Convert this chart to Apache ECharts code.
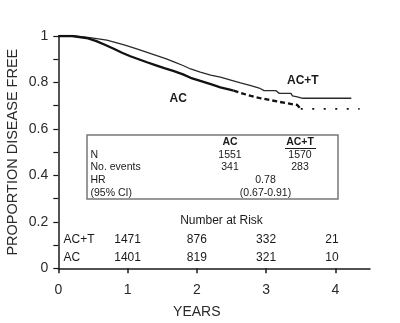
<!DOCTYPE html>
<html>
<head>
<meta charset="utf-8">
<script src="https://cdn.jsdelivr.net/npm/echarts@6/dist/echarts.min.js"></script>
<style>html,body{margin:0;padding:0;background:#fff}#c{width:400px;height:323px}</style>
</head>
<body>
<div id="c"></div>
<script>
// ---- data ----
const actYears = [0,0.24,0.4,0.53,0.7,0.82,0.95,1.11,1.25,1.40,1.55,1.67,1.80,1.91,2.05,2.2,2.34,2.49,2.63,2.78,2.90,2.97,3.14,3.19,3.36,3.38,3.45,3.53,4.23];
const actValues = [1.0,1.0,0.995,0.99,0.982,0.973,0.962,0.947,0.933,0.918,0.903,0.889,0.873,0.858,0.845,0.832,0.823,0.81,0.798,0.786,0.776,0.765,0.765,0.753,0.753,0.742,0.738,0.732,0.732];
const acYears = [0,0.2,0.43,0.55,0.68,0.8,0.92,1.04,1.16,1.28,1.40,1.53,1.67,1.8,1.91,2.05,2.2,2.34,2.49,2.53,2.63,2.78,2.92,3.06,3.2,3.31,3.45,3.5,4.35];
const acValues = [1.0,1.0,0.99,0.978,0.961,0.945,0.928,0.913,0.90,0.887,0.875,0.862,0.849,0.835,0.82,0.807,0.793,0.779,0.768,0.765,0.755,0.742,0.732,0.724,0.716,0.71,0.703,0.686,0.686];
const xTicks = [0,1,2,3,4];
const riskTimes = [1,2,3,3.95];
const riskACT = [1471,876,332,21];
const riskAC = [1401,819,321,10];
const boxRows = ['N','No. events','HR','(95% CI)'];
const boxAC = ['1551','341'];
const boxACT = ['1570','283'];
const hrText = ['0.78','(0.67-0.91)'];
// -------------------------------------

const pair = (xs, ys) => xs.map((x,i)=>[x, ys[i]]);
const act = pair(actYears, actValues);
const ac = pair(acYears, acValues);
const acSolid = ac.filter(p => p[0] <= 2.53);
const acDash = ac.filter(p => p[0] >= 2.53 && p[0] <= 3.5);
const acDot = ac.filter(p => p[0] >= 3.5);

const FONT = 'Liberation Sans, Arial, sans-serif';
const INK = '#1a1a1a';
const chart = echarts.init(document.getElementById('c'), null, {renderer:'canvas'});

const lineBase = {type:'line', showSymbol:false, symbol:'none', animation:false, silent:true};
chart.setOption({
  animation:false,
  grid:{left:58.3, right:30, top:36, bottom:54.7, containLabel:false, outerBoundsMode:'none'},
  xAxis:{
    type:'value', min:0, max:4.5,
    axisLine:{show:true, onZero:false, lineStyle:{color:INK, width:1.5}},
    axisTick:{show:true, length:5, customValues:xTicks, lineStyle:{color:INK, width:1.5}},
    axisLabel:{customValues:xTicks, margin:15, fontSize:14, color:'#2a2a2a', fontFamily:FONT},
    splitLine:{show:false}
  },
  yAxis:{
    type:'value', min:0, max:1, interval:0.2,
    name:'PROPORTION DISEASE FREE', nameLocation:'middle', nameGap:38, nameMoveOverlap:false,
    nameTextStyle:{fontSize:14.5, color:'#2a2a2a', fontFamily:FONT},
    axisLine:{show:true, lineStyle:{color:INK, width:1.5}},
    axisTick:{show:true, length:5, lineStyle:{color:INK, width:1.2}},
    minorTick:{show:true, splitNumber:2, length:5, lineStyle:{color:INK, width:1.2}},
    axisLabel:{margin:10, fontSize:14, color:'#2a2a2a', fontFamily:FONT},
    splitLine:{show:false}
  },
  series:[
    Object.assign({}, lineBase, {name:'AC+T', data:act, lineStyle:{color:'#2a2a2a', width:1.3}}),
    Object.assign({}, lineBase, {name:'AC', data:acSolid, lineStyle:{color:'#111', width:2.3}}),
    Object.assign({}, lineBase, {name:'AC dash', data:acDash, lineStyle:{color:'#111', width:2.3, type:[5,3]}}),
    Object.assign({}, lineBase, {name:'AC dot', data:acDot, lineStyle:{color:'#111', width:1.8, type:[2,9.5]}})
  ]
});

const px = (t) => chart.convertToPixel({xAxisIndex:0}, t);
const py = (v) => chart.convertToPixel({yAxisIndex:0}, v);
const txt = (x, y, s, opt) => ({type:'text', x:x, y:y, silent:true, style:Object.assign({text:s, fill:INK, font:'12px '+FONT, textAlign:'center', textVerticalAlign:'middle'}, opt||{})});

const g = [];
// curve labels
g.push(txt(px(3.53), py(0.806), 'AC+T', {font:'bold 12px '+FONT}));
g.push(txt(px(1.73), py(0.732), 'AC', {font:'bold 12px '+FONT}));
// stats box
g.push({type:'rect', shape:{x:87, y:135, width:251, height:64}, style:{fill:'#fff', stroke:'#777', lineWidth:1.5}, silent:true});
const colAC = 230, colACT = 300, colHR = 265.5;
g.push(txt(colAC, 142, 'AC', {font:'bold 10.5px '+FONT}));
g.push(txt(colACT, 142, 'AC+T', {font:'bold 10.5px '+FONT}));
g.push({type:'line', shape:{x1:285, y1:148.5, x2:316, y2:148.5}, style:{stroke:INK, lineWidth:1}, silent:true});
const rowY = [155, 167.5, 180, 193];
boxRows.forEach((r,i)=> g.push(txt(90.5, rowY[i], r, {font:'10.5px '+FONT, textAlign:'left'})));
boxAC.forEach((v,i)=> g.push(txt(colAC, rowY[i], v, {font:'10.5px '+FONT})));
boxACT.forEach((v,i)=> g.push(txt(colACT, rowY[i], v, {font:'10.5px '+FONT})));
hrText.forEach((v,i)=> g.push(txt(colHR, rowY[i+2], v, {font:'10.5px '+FONT})));
// number at risk
g.push(txt(221.5, 221, 'Number at Risk', {font:'12px '+FONT}));
g.push(txt(63.5, 240, 'AC+T', {font:'12px '+FONT, textAlign:'left'}));
g.push(txt(63.5, 257.5, 'AC', {font:'12px '+FONT, textAlign:'left'}));
riskTimes.forEach((t,i)=>{
  g.push(txt(px(t), 240, String(riskACT[i]), {font:'12px '+FONT}));
  g.push(txt(px(t), 257.5, String(riskAC[i]), {font:'12px '+FONT}));
});
// x-axis title
g.push(txt(px(2), 312, 'YEARS', {font:'14px '+FONT, fill:'#2a2a2a'}));

chart.setOption({graphic:{elements:g}});
</script>
</body>
</html>
